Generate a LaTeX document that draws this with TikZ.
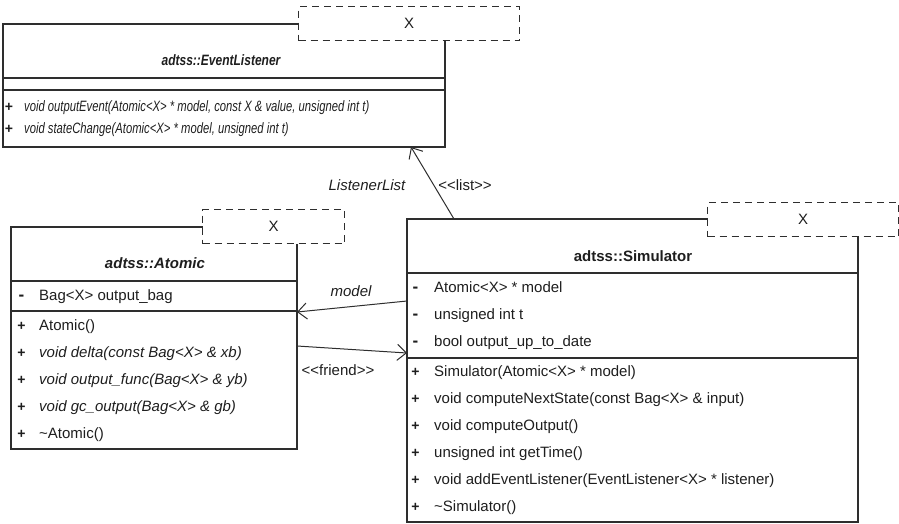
\documentclass[tikz,border=0pt]{standalone}
\usepackage{fontspec}
\usepackage{graphicx}
\setmainfont{Liberation Sans}[Ligatures=TeXOff]
\usetikzlibrary{arrows.meta}

\definecolor{umlline}{HTML}{2E2E2E}
\definecolor{umltext}{HTML}{1E1E1E}

% the EventListener box is printed narrower
\newcommand{\narrow}[2][0.75]{\scalebox{#1}[1]{#2}}
% one member row: name, marker x, text x, y, marker, text
\newcommand{\umlrow}[6]{%
  \node[marker] (#1m) at (#2,#4+5) {#5};
  \node[member] (#1) at (#3,#4+5) {#6};}
\newcommand{\priv}{{\fontsize{17}{18}\selectfont -}}

\tikzset{
  classbox/.style={draw=umlline, line width=1.2pt, anchor=north west, inner sep=0pt, outer sep=0pt},
  tmplbox/.style={draw=umlline, fill=white, line width=1pt, dash pattern=on 7pt off 5pt, anchor=north west, inner sep=0pt},
  sepline/.style={draw=umlline, line width=1.2pt},
  member/.style={anchor=base west, inner sep=0pt},
  marker/.style={anchor=base, inner sep=0pt, font=\fontsize{14}{15}\selectfont\bfseries},
  classname/.style={inner sep=0pt, font=\fontsize{15}{18}\selectfont\bfseries},
  rolelabel/.style={inner sep=0pt},
  assoc/.style={draw=umlline, line width=1pt, -{Straight Barb[length=9pt,width=16pt]}},
}

\begin{document}
\begin{tikzpicture}[x=1pt,y=-1pt, every node/.style={font=\fontsize{15}{18}\selectfont, text=umltext}]
  \useasboundingbox (0,0) rectangle (899,523);

  % EventListener
  \node[classbox, minimum width=442pt, minimum height=123pt] (listener) at (3,24) {};
  \draw[sepline] (3,78) -- (445,78);
  \draw[sepline] (3,90) -- (445,90);
  \node[tmplbox, minimum width=221pt, minimum height=34pt] (listenerX) at (298,6) {X};
  \node[classname] (listenerT) at (221,60) {\narrow[0.8]{\itshape adtss::EventListener}};
  \umlrow{lo}{9}{24}{106}{+}{\narrow{\itshape void outputEvent(Atomic<X> * model, const X \& value, unsigned int t)}}
  \umlrow{ls}{9}{24}{128}{+}{\narrow{\itshape void stateChange(Atomic<X> * model, unsigned int t)}}

  % Atomic
  \node[classbox, minimum width=286pt, minimum height=222pt] (atomic) at (11,227) {};
  \draw[sepline] (11,281) -- (297,281);
  \draw[sepline] (11,311) -- (297,311);
  \node[tmplbox, minimum width=142pt, minimum height=34pt] (atomicX) at (202,209) {X};
  \node[classname] (atomicT) at (155,263) {\itshape adtss::Atomic};
  \umlrow{ab}{21.5}{39}{295}{\priv}{Bag<X> output\_bag}
  \umlrow{ac}{21.5}{39}{325}{+}{Atomic()}
  \umlrow{ad}{21.5}{39}{352}{+}{\itshape void delta(const Bag<X> \& xb)}
  \umlrow{af}{21.5}{39}{379}{+}{\itshape void output\_func(Bag<X> \& yb)}
  \umlrow{ag}{21.5}{39}{406}{+}{\itshape void gc\_output(Bag<X> \& gb)}
  \umlrow{ax}{21.5}{39}{433}{+}{\textasciitilde Atomic()}

  % Simulator
  \node[classbox, minimum width=451pt, minimum height=303pt] (sim) at (407,219) {};
  \draw[sepline] (407,273) -- (858,273);
  \draw[sepline] (407,358) -- (858,358);
  \node[tmplbox, minimum width=191pt, minimum height=34pt] (simX) at (707,202) {X};
  \node[classname] (simT) at (633,256) {adtss::Simulator};
  \umlrow{sm}{415.5}{434}{287}{\priv}{Atomic<X> * model}
  \umlrow{st}{415.5}{434}{314}{\priv}{unsigned int t}
  \umlrow{su}{415.5}{434}{341}{\priv}{bool output\_up\_to\_date}
  \umlrow{sc}{415.5}{434}{371}{+}{Simulator(Atomic<X> * model)}
  \umlrow{sn}{415.5}{434}{398}{+}{void computeNextState(const Bag<X> \& input)}
  \umlrow{so}{415.5}{434}{425}{+}{void computeOutput()}
  \umlrow{sg}{415.5}{434}{452}{+}{unsigned int getTime()}
  \umlrow{sa}{415.5}{434}{479}{+}{void addEventListener(EventListener<X> * listener)}
  \umlrow{sx}{415.5}{434}{506}{+}{\textasciitilde Simulator()}

  % associations
  \draw[assoc] ([xshift=47pt]sim.north west) -- ([xshift=408pt]listener.south west);
  \node[rolelabel] (listRole) at (367,185) {\itshape ListenerList};
  \node[rolelabel] (listStereo) at (465,185) {<<list>>};
  \draw[assoc] ([yshift=-82pt]sim.north west) -- ([yshift=-85pt]atomic.north east);
  \node[rolelabel] (modelRole) at (351,291) {\itshape model};
  \draw[assoc] ([yshift=-119pt]atomic.north east) -- ([yshift=-134pt]sim.north west);
  \node[rolelabel] (friendStereo) at (338,370) {<<friend>>};
\end{tikzpicture}
\end{document}
